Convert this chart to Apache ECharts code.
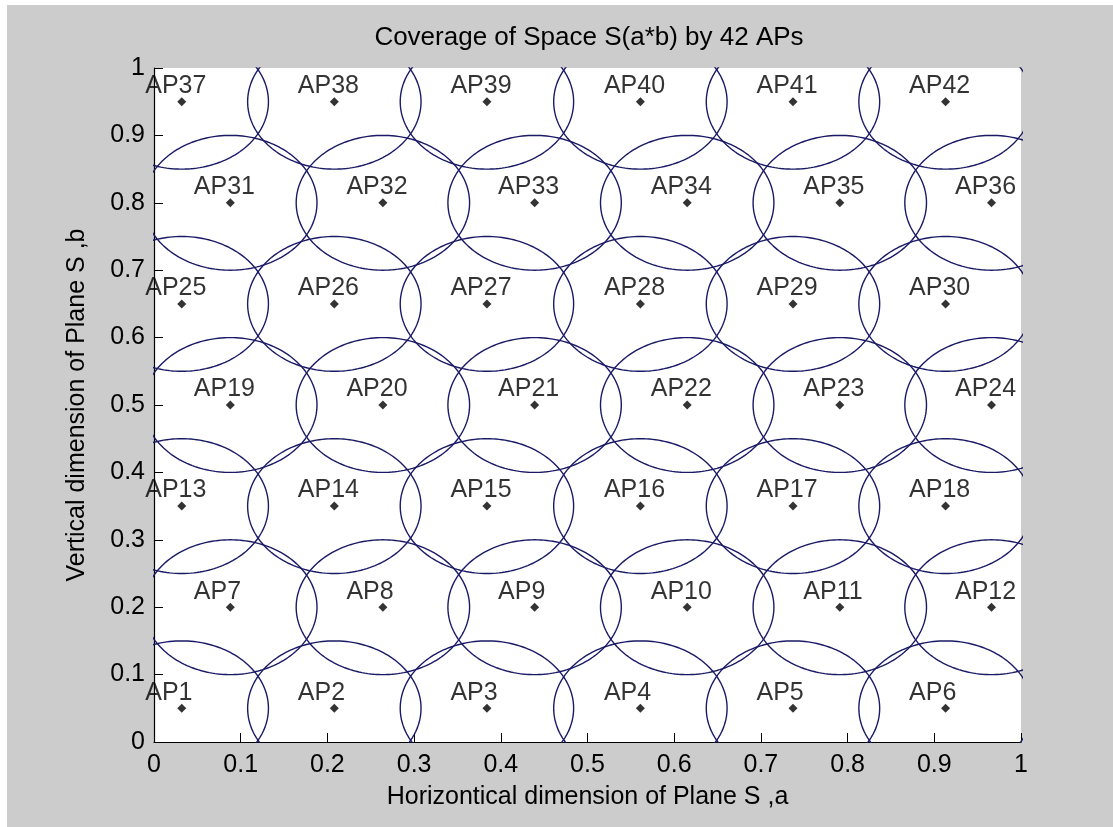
<!DOCTYPE html>
<html>
<head>
<meta charset="utf-8">
<title>Coverage of Space S(a*b) by 42 APs</title>
<script src="https://cdn.jsdelivr.net/npm/echarts@6/dist/echarts.min.js"></script>
<style>
  html, body { margin: 0; padding: 0; background: #ffffff; }
  #main { position: absolute; left: 7px; top: 5px; width: 1106px; height: 822px; }
</style>
</head>
<body>
<div id="main"></div>
<script>
// AP centres (row by row, AP1..AP42)
const apX = [
  0.032, 0.208, 0.384, 0.561, 0.737, 0.913,
  0.088, 0.264, 0.439, 0.615, 0.791, 0.966,
  0.032, 0.208, 0.384, 0.561, 0.737, 0.913,
  0.088, 0.264, 0.439, 0.615, 0.791, 0.966,
  0.032, 0.208, 0.384, 0.561, 0.737, 0.913,
  0.088, 0.264, 0.439, 0.615, 0.791, 0.966,
  0.032, 0.208, 0.384, 0.561, 0.737, 0.913
];
const apY = [
  0.05, 0.05, 0.05, 0.05, 0.05, 0.05,
  0.20, 0.20, 0.20, 0.20, 0.20, 0.20,
  0.35, 0.35, 0.35, 0.35, 0.35, 0.35,
  0.50, 0.50, 0.50, 0.50, 0.50, 0.50,
  0.65, 0.65, 0.65, 0.65, 0.65, 0.65,
  0.80, 0.80, 0.80, 0.80, 0.80, 0.80,
  0.95, 0.95, 0.95, 0.95, 0.95, 0.95
];
const apNames = apX.map((v, i) => 'AP' + (i + 1));
const coverRadius = 0.1;   // radius of each AP coverage circle
const circleSteps = 180;

const FONT = 'Liberation Sans, Arial, sans-serif';
const FS = 25;

const chart = echarts.init(document.getElementById('main'));

// one closed outline per AP
const circleSeries = apX.map((cx, i) => {
  const cy = apY[i];
  const pts = [];
  for (let k = 0; k <= circleSteps; k++) {
    const t = 2 * Math.PI * k / circleSteps;
    pts.push([cx + coverRadius * Math.cos(t), cy + coverRadius * Math.sin(t)]);
  }
  return {
    name: apNames[i] + ' range',
    type: 'line',
    data: pts,
    showSymbol: false,
    clip: true,
    silent: true,
    lineStyle: { color: '#1a1a66', width: 1.4 },
    z: 2
  };
});

const option = {
  backgroundColor: '#cccccc',
  animation: false,
  textStyle: { fontFamily: FONT },
  title: {
    text: 'Coverage of Space S(a*b) by 42 APs',
    left: 577,
    top: 15,
    textAlign: 'center',
    textStyle: { fontFamily: FONT, fontSize: 26, fontWeight: 'normal', color: '#000' }
  },
  grid: {
    left: 147, top: 63, width: 867, height: 674,
    show: true, backgroundColor: '#ffffff', borderWidth: 0
  },
  xAxis: {
    type: 'value', min: 0, max: 1, interval: 0.1,
    name: 'Horizontical dimension of Plane S ,a',
    nameLocation: 'middle', nameGap: 55,
    nameTextStyle: { fontFamily: FONT, fontSize: FS, color: '#000', verticalAlign: 'middle' },
    axisLine: { lineStyle: { color: '#000', width: 1.2 } },
    axisTick: { inside: true, length: 9, lineStyle: { color: '#000' } },
    axisLabel: { fontFamily: FONT, fontSize: FS, color: '#000', margin: 11 },
    splitLine: { show: false }
  },
  yAxis: {
    type: 'value', min: 0, max: 1, interval: 0.1,
    name: 'Vertical dimension of Plane S ,b',
    nameLocation: 'middle', nameGap: 77,
    nameTextStyle: { fontFamily: FONT, fontSize: FS, color: '#000', verticalAlign: 'middle' },
    axisLine: { lineStyle: { color: '#000', width: 1.2 } },
    axisTick: { inside: true, length: 9, lineStyle: { color: '#000' } },
    axisLabel: { fontFamily: FONT, fontSize: FS, color: '#000', margin: 9 },
    splitLine: { show: false }
  },
  series: circleSeries.concat([{
    name: 'APs',
    type: 'scatter',
    data: apX.map((x, i) => [x, apY[i]]),
    symbol: 'diamond',
    symbolSize: 9,
    itemStyle: { color: '#000' },
    label: {
      show: true,
      formatter: p => apNames[p.dataIndex],
      position: [-32, -11],
      align: 'left',
      verticalAlign: 'middle',
      fontFamily: FONT,
      fontSize: FS,
      color: '#000'
    },
    z: 3
  }])
};

chart.setOption(option);
window.addEventListener('resize', () => { chart.resize(); });
</script>
</body>
</html>
